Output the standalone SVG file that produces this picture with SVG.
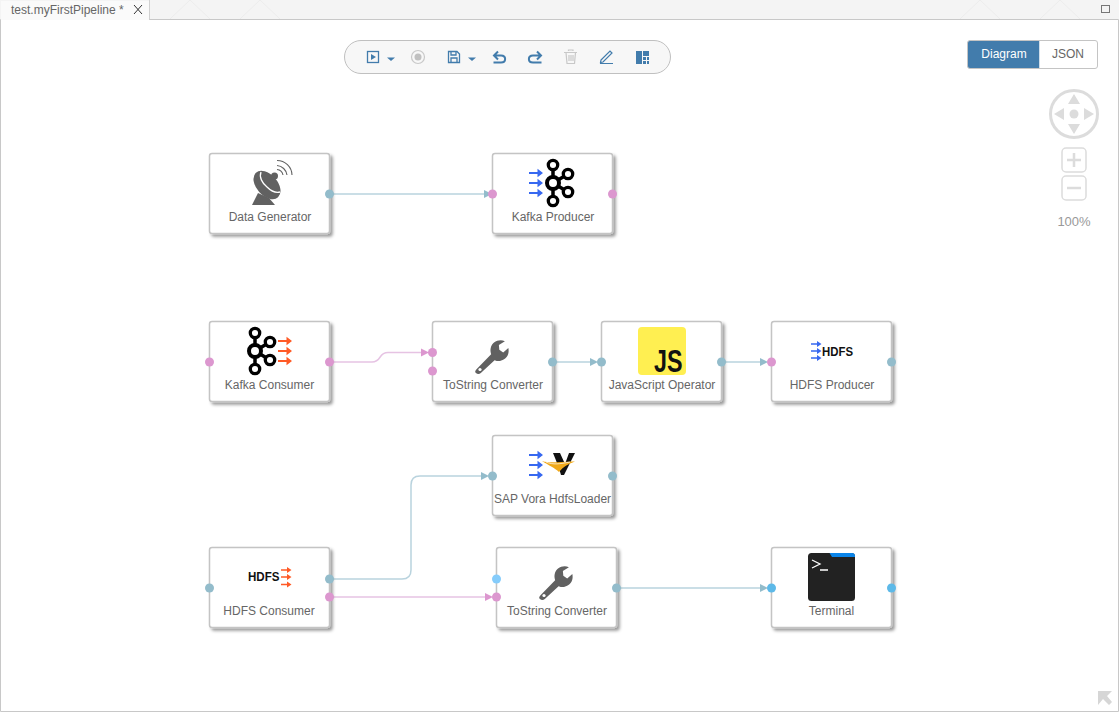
<svg xmlns="http://www.w3.org/2000/svg" width="1119" height="712" viewBox="0 0 1119 712">
<style>
text{font-family:"Liberation Sans",Arial,sans-serif;font-size:12px;fill:#666}
.lbl{text-anchor:middle}
.box{fill:#fff;stroke:#c4c4c4;stroke-width:1.5;filter:url(#sh)}
.b{fill:#93bccb}.p{fill:#dc97cf}.c{fill:#5db9e8}.lb{fill:#85ccfb}
.cb{fill:none;stroke:#b9d3de;stroke-width:1.5}
.cp{fill:none;stroke:#e6c3e3;stroke-width:1.5}
.ab{fill:#93bccb}.ap{fill:#dc97cf}
.tb{fill:none;stroke:#427cac;stroke-width:1.3}
.nav{fill:#dcdcdc}
.hd{font-size:12px;font-weight:bold;fill:#111}
</style>
<defs>
<filter id="sh" x="-10%" y="-10%" width="125%" height="130%"><feDropShadow dx="2.5" dy="2.5" stdDeviation="1.8" flood-color="#000" flood-opacity="0.4"/></filter>
<g id="kafka" fill="none" stroke="#000">
<path d="M0-18V18M0 0L15-9M0 0L15 9" stroke-width="3.500"/>
<circle r="6" stroke-width="4" fill="#fff"/>
<circle cy="-18" r="4.700" stroke-width="3.300" fill="#fff"/><circle cy="18" r="4.700" stroke-width="3.300" fill="#fff"/>
<circle cx="15" cy="-9" r="4.700" stroke-width="3.300" fill="#fff"/><circle cx="15" cy="9" r="4.700" stroke-width="3.300" fill="#fff"/>
</g>
<g id="arw"><path d="M0-1H8.500V-4.200L14 0L8.500 4.200V1H0Z"/></g>
<g id="arw3"><use href="#arw" y="-10"/><use href="#arw"/><use href="#arw" y="10"/></g>
<g id="arws"><path d="M0-.8H6V-3L10.500 0L6 3V.8H0Z"/></g>
<g id="wrench"><path transform="scale(.86)" fill="#616161" d="M-18 16.500L-1-1C-3-7 -1-14 6-16.500C9-17.500 12-17.500 15-16L8-11.500L8.500-6L13-3L19-8C20-3 19 2 14 5C10 7.500 7 7.500 3 6L-13 21C-15 22.500 -17 22.500 -19 20.500C-20 19.500 -19.500 18 -18 16.500Z"/><circle cx="-12" cy="14.500" r="1.600" fill="#fff"/></g>
</defs>
<rect width="1119" height="712" fill="#fff"/>
<g id="chrome">
<rect x="0" y="0" width="1119" height="19.500" fill="#f4f4f4"/>
<path d="M170 19L190 0L210 19M240 19L260 0L280 19M960 19L980 0L1000 19M1040 19L1060 0L1080 19" fill="none" stroke="#ececec"/>
<path d="M0.500 19.500H1118.500V711.500H0.500Z" fill="#fff" stroke="#c8c8c8"/>
<path d="M1 20V1H149V20Z" fill="#fafafa"/><path d="M149.500 0V19.500" stroke="#d0d0d0" fill="none"/>
<text x="11" y="14">test.myFirstPipeline *</text>
<path d="M134 5L142 14M142 5L134 14" stroke="#333" fill="none"/>
<rect x="1101.500" y="5.500" width="8" height="7" fill="none" stroke="#777"/><path d="M1101 5.500H1110" stroke="#777" fill="none"/>
<path d="M1098 691H1112L1107 696L1112 702L1109 705L1103 699L1098 705Z" fill="#d6d6d6"/>
</g>
<g id="toolbar">
<rect x="344.500" y="40.500" width="326" height="33" rx="16.500" fill="#f7f7f7" stroke="#c0c0c0"/>
<rect x="367.500" y="51.500" width="11" height="11" class="tb"/><path d="M371 54L376 57L371 60Z" fill="#427cac"/>
<path d="M387 57.500H395L391 61Z" fill="#427cac"/>
<circle cx="418" cy="57" r="6.500" fill="none" stroke="#c8c8c8" stroke-width="1.200"/><circle cx="418" cy="57" r="3.500" fill="#c0c0c0"/>
<path d="M448.500 51.500H457L459.500 54V62.500H448.500Z" class="tb"/><path d="M451 52V55H456V52M451 62.500V58H457V62.500" class="tb" stroke-width="1"/>
<path d="M468 57.500H476L472 61Z" fill="#427cac"/>
<path d="M498 51.500L494 55.500L498 59.500M495 55.500H501C506.500 55.500 506.500 62.500 501 62.500H493.500" fill="none" stroke="#427cac" stroke-width="2"/>
<path d="M537 51.500L541 55.500L537 59.500M540 55.500H533C527.500 55.500 527.500 62.500 533 62.500H541.500" fill="none" stroke="#427cac" stroke-width="2"/>
<path d="M564 52.500H577M566 52.500L567 63.500H574.500L575.500 52.500M568.500 51V50H573V51M569 55V61M571 55V61M573 55V61" fill="none" stroke="#c8c8c8" stroke-width="1.200"/>
<path d="M601 60L610 51L612 53L603 62L600.500 62.500ZM600 63.500H613" fill="none" stroke="#427cac" stroke-width="1.200"/>
<path d="M636 51H642V64H636ZM643 51H649V56H643ZM643 57H646V60H643ZM647 57H649V60H647ZM643 61H646V64H643ZM647 61H649V64H647Z" fill="#427cac"/>
</g>
<g id="view-switch">
<path d="M970 40.500H1039.500V68.500H970A2.500 2.500 0 0 1 967.500 66V43A2.500 2.500 0 0 1 970 40.500Z" fill="#427cac"/>
<path d="M1039.500 40.500H1095A2.500 2.500 0 0 1 1097.500 43V66A2.500 2.500 0 0 1 1095 68.500H1039.500Z" fill="#fff"/>
<rect x="967.500" y="40.500" width="130" height="28" rx="2.500" fill="none" stroke="#c4c4c4"/>
<text x="1004" y="58" class="lbl" style="fill:#fff;font-weight:500">Diagram</text>
<text x="1068" y="58" class="lbl">JSON</text>
</g>
<g id="zoom-controls">
<circle cx="1074" cy="114" r="23.500" fill="#fff" stroke="#dcdcdc" stroke-width="3"/>
<path class="nav" d="M1074 94L1080 104H1068ZM1074 134L1080 124H1068ZM1054 114L1064 108V120ZM1094 114L1084 108V120Z"/>
<circle class="nav" cx="1074" cy="114" r="4.500"/>
<rect x="1062" y="148" width="24" height="24" rx="4" fill="#fff" stroke="#dcdcdc" stroke-width="1.500"/>
<path d="M1074 153V167M1067 160H1081" stroke="#dcdcdc" stroke-width="2.500" fill="none"/>
<rect x="1062" y="176" width="24" height="24" rx="4" fill="#fff" stroke="#dcdcdc" stroke-width="1.500"/>
<path d="M1067 188H1081" stroke="#dcdcdc" stroke-width="2.500" fill="none"/>
<text x="1074" y="226" class="lbl" style="font-size:13px;fill:#999">100%</text>
</g>
<g id="connectors">
<path class="cb" d="M330 194H486"/><path class="ab" d="M484 190L492 194L484 198Z"/>
<path class="cp" d="M330 362H372C382 362 378 352.500 388 352.500H426"/><path class="ap" d="M421 348.500L429 352.500L421 356.500Z"/>
<path class="cb" d="M553 362H595"/><path class="ab" d="M590 358L598 362L590 366Z"/>
<path class="cb" d="M722 362H765"/><path class="ab" d="M760 358L768 362L760 366Z"/>
<path class="cb" d="M330 579H402Q411 579 411 570V485Q411 476 420 476H487"/><path class="ab" d="M481 472L489 476L481 480Z"/>
<path class="cp" d="M330 597H490"/><path class="ap" d="M485 593L493 597L485 601Z"/>
<path class="cb" d="M617 588H765"/><path class="ab" d="M760 584L768 588L760 592Z"/>
</g>
<g id="node-data-generator">
<rect class="box" x="209.500" y="153.500" width="120" height="80" rx="2.500"/>
<path fill="#616161" d="M252 205L258 193L269 198L275 205Z"/>
<ellipse cx="267" cy="185" rx="16.500" ry="10.500" transform="rotate(48 267 185)" fill="#616161"/>
<path fill="none" stroke="#fff" stroke-width="1.300" d="M261 172C259 177 262 183 267 187C271 191 276 193 280 192"/>
<circle cx="274.500" cy="176" r="3.500" fill="#616161"/>
<path fill="none" stroke="#616161" stroke-width="1.100" d="M277 169.500A7 7 0 0 1 283 175M277 165.500A11 11 0 0 1 287 175M277 160.500A15 15 0 0 1 292 175"/>
<text class="lbl" x="270" y="221">Data Generator</text>
<circle class="b" cx="329.500" cy="194" r="4.500"/>
</g>
<g id="node-kafka-producer">
<rect class="box" x="492.500" y="153.500" width="120" height="80" rx="2.500"/>
<use href="#kafka" x="553" y="183"/>
<use href="#arw3" x="529" y="183" fill="#3768f0"/>
<text class="lbl" x="553" y="221">Kafka Producer</text>
<circle class="p" cx="492.500" cy="194" r="4.500"/><circle class="p" cx="612.500" cy="194" r="4.500"/>
</g>
<g id="node-kafka-consumer">
<rect class="box" x="209.500" y="321.500" width="120" height="80" rx="2.500"/>
<use href="#kafka" x="255" y="351"/>
<use href="#arw3" x="278" y="351" fill="#ff5a26"/>
<text class="lbl" x="269.500" y="389">Kafka Consumer</text>
<circle class="p" cx="209.500" cy="362" r="4.500"/><circle class="p" cx="329.500" cy="362" r="4.500"/>
</g>
<g id="node-tostring-1">
<rect class="box" x="432.500" y="321.500" width="120" height="80" rx="2.500"/>
<use href="#wrench" x="492" y="355"/>
<text class="lbl" x="493" y="389">ToString Converter</text>
<circle class="p" cx="432.500" cy="352.500" r="4.500"/><circle class="p" cx="432.500" cy="371" r="4.500"/><circle class="b" cx="552.500" cy="362" r="4.500"/>
</g>
<g id="node-javascript">
<rect class="box" x="601.500" y="321.500" width="120" height="80" rx="2.500"/>
<rect x="638" y="327" width="48" height="48" rx="4" fill="#ffef51"/>
<text x="654" y="372" textLength="28.500" lengthAdjust="spacingAndGlyphs" style="font-size:32px;font-weight:bold;fill:#111">JS</text>
<text class="lbl" x="662" y="389">JavaScript Operator</text>
<circle class="b" cx="601.500" cy="362" r="4.500"/><circle class="b" cx="721.500" cy="362" r="4.500"/>
</g>
<g id="node-hdfs-producer">
<rect class="box" x="771.500" y="321.500" width="120" height="80" rx="2.500"/>
<use href="#arws" x="811" y="344" fill="#3768f0"/><use href="#arws" x="811" y="351" fill="#3768f0"/><use href="#arws" x="811" y="358" fill="#3768f0"/>
<text x="822" y="355.500" class="hd" textLength="31" lengthAdjust="spacingAndGlyphs">HDFS</text>
<text class="lbl" x="832" y="389">HDFS Producer</text>
<circle class="p" cx="771.500" cy="362" r="4.500"/><circle class="b" cx="891.500" cy="362" r="4.500"/>
</g>
<g id="node-sap-vora">
<rect class="box" x="492.500" y="435.500" width="120" height="80" rx="2.500"/>
<use href="#arw3" x="529" y="465" fill="#3768f0"/>
<path fill="#111" d="M553 453H560L565 464L569 453H575L564 475H561C559 468 556 460 553 453Z"/>
<path fill="#f0a91a" d="M542 461C552 464 562 461 575 461.500C568 464 563 467 559 472C555 468 548 465 542 461Z"/>
<path fill="none" stroke="#fff" stroke-width=".7" d="M546 462C553 465 560 464 570 462"/>
<text class="lbl" x="552.500" y="503">SAP Vora HdfsLoader</text>
<circle class="b" cx="492.500" cy="476" r="4.500"/><circle class="b" cx="612.500" cy="476" r="4.500"/>
</g>
<g id="node-hdfs-consumer">
<rect class="box" x="209.500" y="547.500" width="120" height="80" rx="2.500"/>
<text x="248" y="581" class="hd" textLength="31.500" lengthAdjust="spacingAndGlyphs">HDFS</text>
<use href="#arws" x="281" y="570" fill="#ff5a26"/><use href="#arws" x="281" y="577" fill="#ff5a26"/><use href="#arws" x="281" y="584.500" fill="#ff5a26"/>
<text class="lbl" x="269" y="615">HDFS Consumer</text>
<circle class="b" cx="209.500" cy="588" r="4.500"/><circle class="b" cx="329.500" cy="579" r="4.500"/><circle class="p" cx="329.500" cy="597" r="4.500"/>
</g>
<g id="node-tostring-2">
<rect class="box" x="496.500" y="547.500" width="120" height="80" rx="2.500"/>
<use href="#wrench" x="556" y="581"/>
<text class="lbl" x="557" y="615">ToString Converter</text>
<circle class="lb" cx="496.500" cy="579" r="4.500"/><circle class="p" cx="496.500" cy="597" r="4.500"/><circle class="b" cx="616.500" cy="588" r="4.500"/>
</g>
<g id="node-terminal">
<rect class="box" x="771.500" y="547.500" width="120" height="80" rx="2.500"/>
<rect x="808" y="553" width="47" height="48" rx="3.500" fill="#222"/>
<path d="M829.500 553H852A3 3 0 0 1 855 556V557H832Z" fill="#0a84e8"/>
<path d="M812 560L820 564L812 568M820 570H828" fill="none" stroke="#fff" stroke-width="1.300"/>
<text class="lbl" x="831.500" y="615">Terminal</text>
<circle class="c" cx="771.500" cy="588" r="4.500"/><circle class="c" cx="891.500" cy="588" r="4.500"/>
</g>
</svg>
